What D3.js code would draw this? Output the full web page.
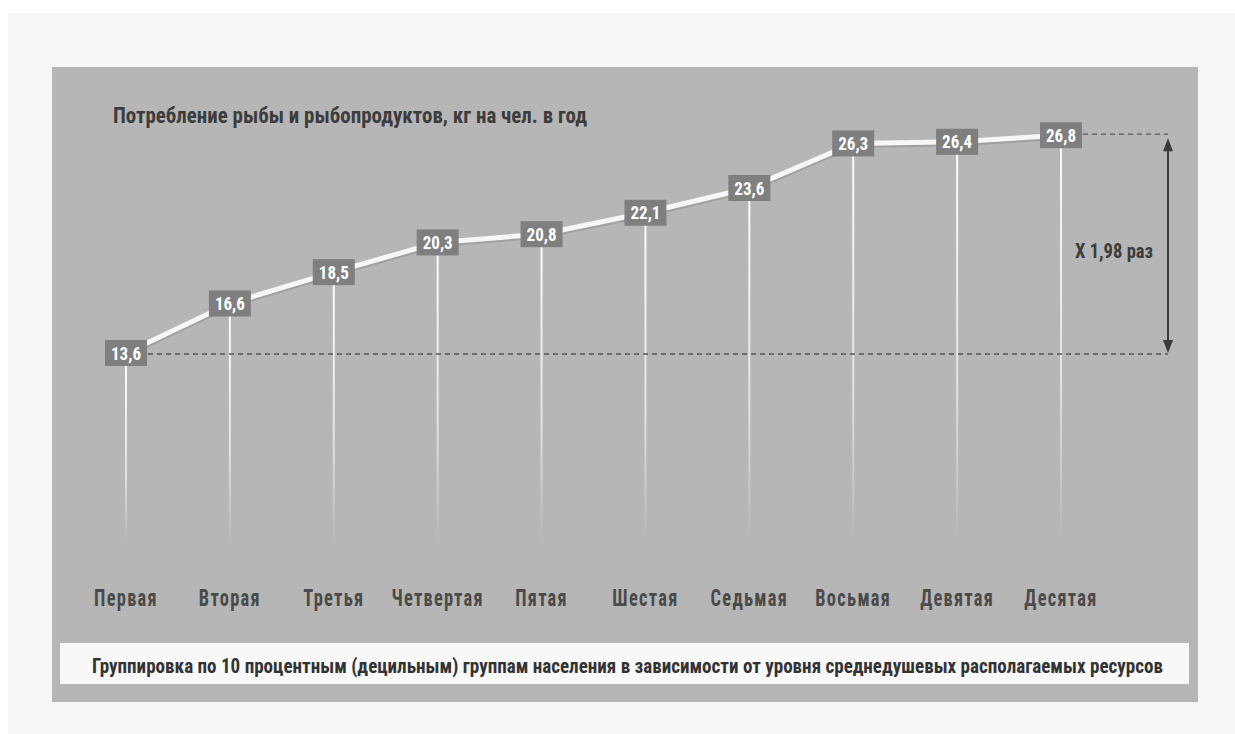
<!DOCTYPE html>
<html><head><meta charset="utf-8">
<script src="https://cdn.jsdelivr.net/npm/d3@7"></script>
<style>
html,body{margin:0;padding:0;background:#fff;}
svg text{font-family:"Liberation Sans Narrow","Arial Narrow","Roboto Condensed",Roboto,sans-serif;font-weight:bold;}
</style></head>
<body>
<svg id="c" width="1235" height="734"></svg>
<script>
const categories = ["Первая","Вторая","Третья","Четвертая","Пятая","Шестая","Седьмая","Восьмая","Девятая","Десятая"];
const values = [13.6,16.6,18.5,20.3,20.8,22.1,23.6,26.3,26.4,26.8];
const valueLabels = ["13,6","16,6","18,5","20,3","20,8","22,1","23,6","26,3","26,4","26,8"];
const title = "Потребление рыбы и рыбопродуктов, кг на чел. в год";
const footnote = "Группировка по 10 процентным (децильным) группам населения в зависимости от уровня среднедушевых располагаемых ресурсов";
const ratioLabel = "X 1,98 раз";

const svg = d3.select("#c");
svg.append("rect").attr("x",8).attr("y",13).attr("width",1227).attr("height",721).attr("fill","#f6f6f6");
svg.append("rect").attr("x",52).attr("y",67).attr("width",1146).attr("height",635).attr("fill","#b6b6b6");

const defs = svg.append("defs");
const g = defs.append("linearGradient").attr("id","fade").attr("x1",0).attr("y1",0).attr("x2",0).attr("y2",1);
g.append("stop").attr("offset","0%").attr("stop-color","#ffffff").attr("stop-opacity",0.95);
g.append("stop").attr("offset","60%").attr("stop-color","#ffffff").attr("stop-opacity",0.6);
g.append("stop").attr("offset","100%").attr("stop-color","#ffffff").attr("stop-opacity",0);

const x = d3.scalePoint().domain(categories).range([126,1061]);
const y = d3.scaleLinear().domain([10,30]).range([412.4,82.4]);

svg.append("text").attr("x",113).attr("y",123).attr("font-size",22).attr("fill","#3c3c3c")
  .attr("textLength",474).attr("lengthAdjust","spacingAndGlyphs").text(title);

const bottomY = 545;
svg.selectAll(".vl").data(categories).enter().append("rect")
  .attr("x",d=>x(d)-1).attr("width",2)
  .attr("y",(d,i)=>y(values[i])+12)
  .attr("height",(d,i)=>bottomY-(y(values[i])+12))
  .attr("fill","url(#fade)");

const minV = d3.min(values), maxV = d3.max(values);
svg.append("line").attr("x1",x(categories[0])+22).attr("x2",1168).attr("y1",y(minV)+1).attr("y2",y(minV)+1)
  .attr("stroke","#555").attr("stroke-width",1.3).attr("stroke-dasharray","5,4");
svg.append("line").attr("x1",x(categories[9])+22).attr("x2",1168).attr("y1",y(maxV)-1).attr("y2",y(maxV)-1)
  .attr("stroke","#555").attr("stroke-width",1.3).attr("stroke-dasharray","5,4");

const ax = 1168;
svg.append("line").attr("x1",ax).attr("x2",ax).attr("y1",y(maxV)+10).attr("y2",y(minV)-8)
  .attr("stroke","#3a3a3a").attr("stroke-width",2);
svg.append("path").attr("d",`M${ax-5},${y(maxV)+16} L${ax},${y(maxV)+3} L${ax+5},${y(maxV)+16} Z`).attr("fill","#3a3a3a");
svg.append("path").attr("d",`M${ax-5},${y(minV)-13} L${ax},${y(minV)} L${ax+5},${y(minV)-13} Z`).attr("fill","#3a3a3a");
svg.append("text").attr("x",1075).attr("y",258).attr("font-size",21).attr("fill","#3c3c3c")
  .attr("textLength",78).attr("lengthAdjust","spacingAndGlyphs").text(ratioLabel);

const line = d3.line().x((d,i)=>x(categories[i])).y(d=>y(d));
svg.append("path").datum(values).attr("d",line).attr("fill","none").attr("stroke","#8a8a8a").attr("stroke-width",6).attr("transform","translate(0,1.5)").attr("opacity",0.5);
svg.append("path").datum(values).attr("d",line).attr("fill","none").attr("stroke","#f7f7f7").attr("stroke-width",5);

const lb = svg.selectAll(".lb").data(values).enter().append("g")
  .attr("transform",(d,i)=>`translate(${x(categories[i])},${y(d)})`);
lb.append("rect").attr("x",-21).attr("y",-13).attr("width",42).attr("height",26).attr("fill","#7f7f7f");
lb.append("text").attr("text-anchor","middle").attr("y",6.5).attr("font-size",18).attr("fill","#ffffff")
  .attr("textLength",30).attr("lengthAdjust","spacingAndGlyphs").text((d,i)=>valueLabels[i]);

svg.selectAll(".cl").data(categories).enter().append("g")
  .attr("transform",d=>`translate(${x(d)},606)`)
  .append("text").attr("transform","scale(0.8,1)").attr("text-anchor","middle").attr("font-size",23).attr("fill","#4a4a4a")
  .attr("letter-spacing",1.6).text(d=>d);

svg.append("rect").attr("x",60).attr("y",643).attr("width",1129).attr("height",41).attr("fill","#f8f8f8");
svg.append("text").attr("x",92).attr("y",673).attr("font-size",20).attr("fill","#333")
  .attr("textLength",1071).attr("lengthAdjust","spacingAndGlyphs").text(footnote);
</script>
</body></html>
